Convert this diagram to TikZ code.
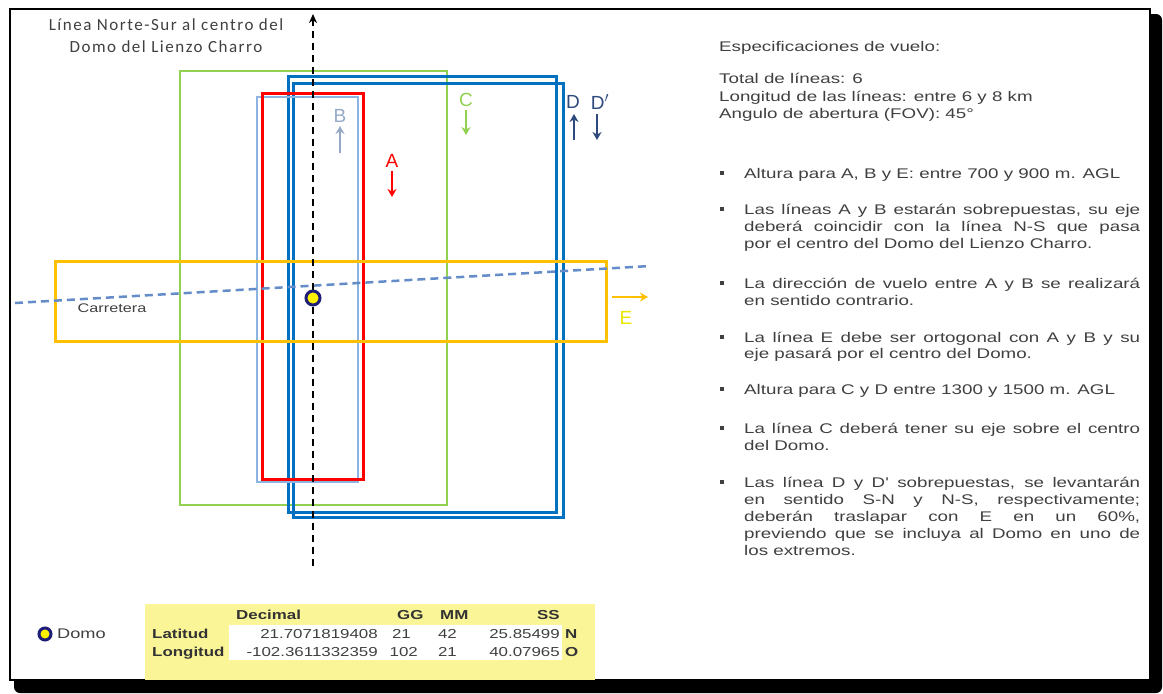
\documentclass[tikz,border=0pt]{standalone}
\usepackage{fontspec}
\setmainfont{Liberation Sans}
\newfontfamily\specfont[FakeStretch=1.34]{Liberation Sans}
\newfontfamily\tabfont[FakeStretch=1.3]{Liberation Sans}
\newfontfamily\titlefont[LetterSpace=9]{Carlito}
\usetikzlibrary{arrows.meta}
\definecolor{txtgray}{RGB}{64,64,64}
\definecolor{cgreen}{RGB}{146,208,80}
\definecolor{cblue}{RGB}{0,112,192}
\definecolor{cltblue}{RGB}{141,179,226}
\definecolor{cred}{RGB}{255,0,0}
\definecolor{cyel}{RGB}{255,192,0}
\definecolor{croad}{RGB}{100,140,200}
\definecolor{cdblue}{RGB}{46,74,125}
\definecolor{cbgrey}{RGB}{150,170,200}
\definecolor{tabyel}{RGB}{250,245,150}
\definecolor{domnavy}{RGB}{30,30,120}
\definecolor{eyel}{RGB}{235,230,0}
\newcommand{\jl}[1]{\makebox[396pt][s]{#1}}
\begin{document}
\begin{tikzpicture}[x=1pt,y=-1pt,
  spec/.style={font=\specfont\fontsize{14}{17}\selectfont, text=txtgray, inner sep=0pt, anchor=base west},
  bul/.style={fill=txtgray, minimum size=3.5pt, inner sep=0pt},
  flight/.style={line width=3pt},
  lbl/.style={font=\fontsize{19}{19}\selectfont, inner sep=0pt},
  arr/.style={line width=2.5pt, -{Stealth[length=8pt,width=9pt]}},
  tab/.style={font=\tabfont\fontsize{13}{14}\selectfont, text=txtgray, inner sep=0pt, anchor=base east},
  tabh/.style={font=\tabfont\bfseries\fontsize{13}{14}\selectfont, text=black!80, inner sep=0pt, anchor=base west},
  dome/.style={circle, fill=yellow, draw=domnavy, line width=3pt, minimum size=14pt, inner sep=0pt}]
\useasboundingbox (0,0) rectangle (1163,694);
\fill[white] (0,0) rectangle (1163,694);
\fill[black, rounded corners=6pt] (14,14) rectangle (1162,693);
\filldraw[fill=white, draw=black, line width=2.5pt] (10,9) rectangle (1150,680);

% title
\node[font=\titlefont\fontsize{17}{17}\selectfont, text=txtgray, inner sep=0pt] (t1) at (166,25) {Línea Norte-Sur al centro del};
\node[font=\titlefont\fontsize{17}{17}\selectfont, text=txtgray, inner sep=0pt] (t2) at (166,47) {Domo del Lienzo Charro};

% flight line rectangles
\draw[cgreen, line width=2.2pt] (180,71) rectangle (447,505);
\draw[cblue, flight] (288,76) rectangle (556,512);
\draw[cblue, flight] (293,83) rectangle (563,517);
\draw[cltblue, line width=1.8pt] (257,97) rectangle (358,482);
\draw[cred, flight] (262,93) rectangle (363,479);
\draw[cyel, flight] (55,261) rectangle (606,341);

% road
\coordinate (rw) at (15,303);
\coordinate (re) at (650,266);
\draw[croad, line width=2.5pt, dash pattern=on 8pt off 5pt] (rw) -- (re);
\node[font=\tabfont\fontsize{12.5}{12.5}\selectfont, text=txtgray, inner sep=0pt] (carr) at (112,308) {Carretera};

% N-S line
\coordinate (ns) at (313,566);
\coordinate (nn) at (313,14);
\draw[black, line width=2.8pt, dash pattern=on 7pt off 5pt, -{Stealth[length=9pt,width=8pt]}] (ns) -- (nn);

% dome
\node[dome] (domo) at (313,298) {};

% labels
\node[lbl, text=cred] (la) at (392,161) {A};
\coordinate (a1) at (392,171);
\coordinate (a2) at (392,197);
\draw[cred, arr] (a1) -- (a2);

\node[lbl, text=cbgrey] (lb) at (340,116) {B};
\coordinate (b1) at (340,153);
\coordinate (b2) at (340,126);
\draw[cbgrey, arr] (b1) -- (b2);

\node[lbl, text=cgreen] (lc) at (466,100) {C};
\coordinate (c1) at (466,110);
\coordinate (c2) at (466,135);
\draw[cgreen, arr] (c1) -- (c2);

\node[lbl, text=cdblue] (ld) at (573,102) {D};
\coordinate (d1) at (574,140);
\coordinate (d2) at (574,114);
\draw[cdblue, arr] (d1) -- (d2);

\node[lbl, text=cdblue] (ldp) at (600,102) {D$'$};
\coordinate (e1) at (597,114);
\coordinate (e2) at (597,140);
\draw[cdblue, arr] (e1) -- (e2);

\coordinate (f1) at (612,297);
\coordinate (f2) at (648,297);
\draw[cyel, arr] (f1) -- (f2);
\node[lbl, text=eyel] (le) at (626,318) {E};

% right text
\node[spec] (s1) at (719,51) {Especificaciones de vuelo:};
\node[spec] (s2) at (719,83) {Total de líneas: 6};
\node[spec] (s3) at (719,101) {Longitud de las líneas: entre 6 y 8 km};
\node[spec] (s4) at (719,118) {Angulo de abertura (FOV): 45°};

\node[bul] (b01) at (722,173) {};
\node[spec] (p1) at (744,178) {Altura para A, B y E: entre 700 y 900 m. AGL};

\node[bul] (b02) at (722,209) {};
\node[spec] (p2a) at (744,214) {\jl{Las líneas A y B estarán sobrepuestas, su eje}};
\node[spec] (p2b) at (744,231) {\jl{deberá coincidir con la línea N-S que pasa}};
\node[spec] (p2c) at (744,248) {por el centro del Domo del Lienzo Charro.};

\node[bul] (b03) at (722,283) {};
\node[spec] (p3a) at (744,288) {\jl{La dirección de vuelo entre A y B se realizará}};
\node[spec] (p3b) at (744,305) {en sentido contrario.};

\node[bul] (b04) at (722,337) {};
\node[spec] (p4a) at (744,342) {\jl{La línea E debe ser ortogonal con A y B y su}};
\node[spec] (p4b) at (744,358) {eje pasará por el centro del Domo.};

\node[bul] (b05) at (722,389) {};
\node[spec] (p5) at (744,394) {Altura para C y D entre 1300 y 1500 m. AGL};

\node[bul] (b06) at (722,428) {};
\node[spec] (p6a) at (744,433) {\jl{La línea C deberá tener su eje sobre el centro}};
\node[spec] (p6b) at (744,450) {del Domo.};

\node[bul] (b07) at (722,482) {};
\node[spec] (p7a) at (744,487) {\jl{Las línea D y D' sobrepuestas, se levantarán}};
\node[spec] (p7b) at (744,504) {\jl{en sentido S-N y N-S, respectivamente;}};
\node[spec] (p7c) at (744,521) {\jl{deberán traslapar con E en un 60\%,}};
\node[spec] (p7d) at (744,538) {\jl{previendo que se incluya al Domo en uno de}};
\node[spec] (p7e) at (744,555) {los extremos.};

% legend
\node[dome, minimum size=12pt] (ldom) at (45,634) {};
\node[font=\tabfont\fontsize{14}{14}\selectfont, text=txtgray, inner sep=0pt, anchor=west] (ldomt) at (57,634) {Domo};

% table
\fill[tabyel] (145,604) rectangle (595,680);
\fill[white] (229,625) rectangle (562,660);
\node[tabh] (h1) at (236,619) {Decimal};
\node[tabh] (h2) at (397,619) {GG};
\node[tabh] (h3) at (440,619) {MM};
\node[tabh] (h4) at (537,619) {SS};
\node[tabh] (r1) at (152,638) {Latitud};
\node[tabh] (r2) at (152,656) {Longitud};
\node[tab] (v11) at (378,638) {21.7071819408};
\node[tab] (v12) at (411,638) {21};
\node[tab] (v13) at (457,638) {42};
\node[tab] (v14) at (560,638) {25.85499};
\node[tabh] (v15) at (565,638) {N};
\node[tab] (v21) at (378,656) {-102.3611332359};
\node[tab] (v22) at (418,656) {102};
\node[tab] (v23) at (457,656) {21};
\node[tab] (v24) at (560,656) {40.07965};
\node[tabh] (v25) at (565,656) {O};
\end{tikzpicture}
\end{document}
